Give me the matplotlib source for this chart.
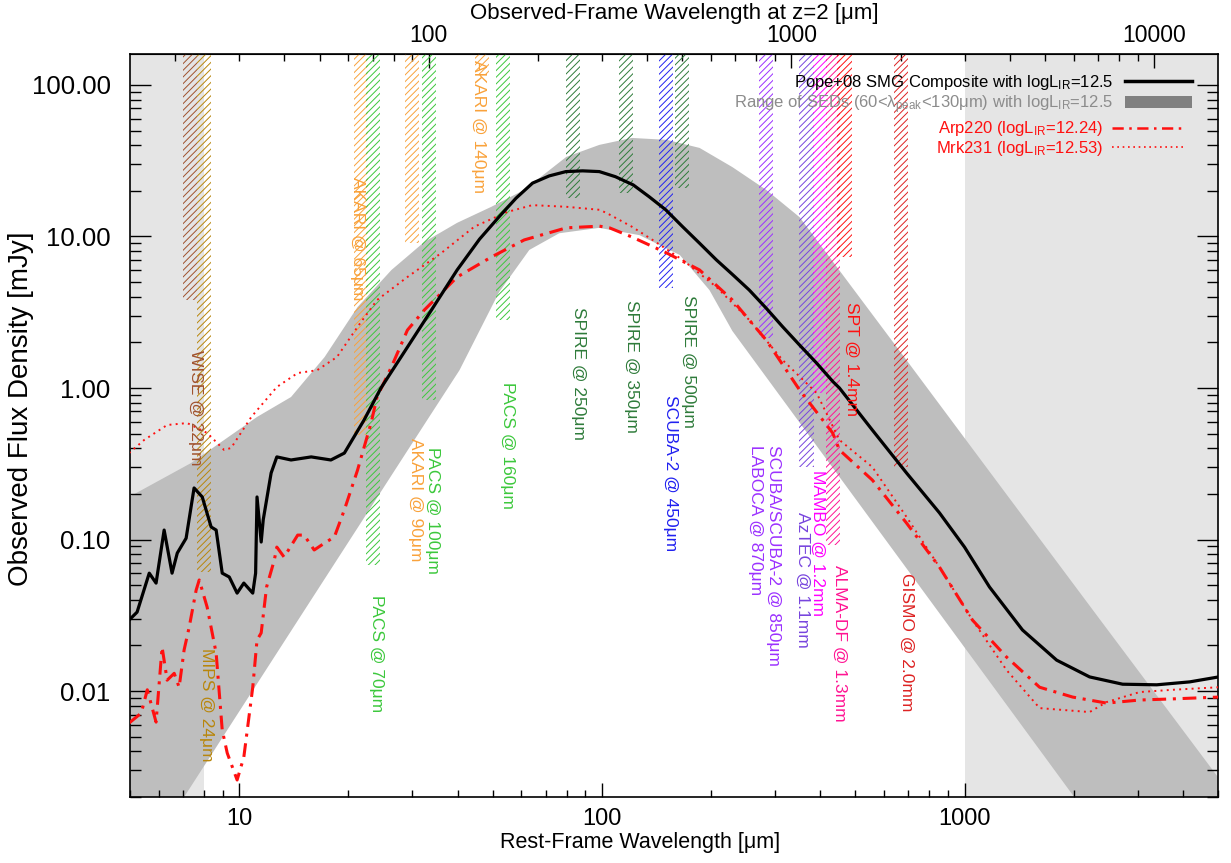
import numpy as np
import matplotlib
matplotlib.use('agg')
import matplotlib.pyplot as plt
import matplotlib.ticker as mticker
from matplotlib.lines import Line2D
from matplotlib.patches import Patch

plt.rcParams['font.family'] = ['Liberation Sans', 'DejaVu Sans']
plt.rcParams['mathtext.fontset'] = 'custom'
plt.rcParams['mathtext.rm'] = 'Liberation Sans'
plt.rcParams['mathtext.it'] = 'Liberation Sans:italic'
plt.rcParams['hatch.linewidth'] = 0.7

# Pope+08 SMG composite, rest wavelength [um] vs flux [mJy]
popeWave = [4.97, 5.23, 5.65, 5.90, 6.21, 6.53, 6.75, 7.14, 7.51, 7.91, 8.37, 8.64,
            8.98, 9.39, 9.87, 10.3, 10.9, 11.1, 11.2, 11.5, 11.65, 12.25, 12.7, 13.9,
            15.8, 17.9, 19.5, 22.1, 24.6, 29.1, 33.9, 39.9, 46.0, 52.1, 58.0, 64.4,
            71.6, 79.6, 88.5, 98.4, 109, 122, 135, 150, 167, 186, 207, 230, 255, 284,
            315, 351, 391, 434, 452, 557, 692, 853, 1000, 1172, 1445, 1795, 2213, 2729,
            3388, 4178, 5020]
popeFlux = [0.0294, 0.0332, 0.060, 0.0516, 0.1155, 0.060, 0.0814, 0.102, 0.219, 0.191,
            0.121, 0.1155, 0.060, 0.0566, 0.0443, 0.0516, 0.0443, 0.060, 0.191, 0.0963,
            0.135, 0.275, 0.351, 0.335, 0.351, 0.335, 0.372, 0.615, 1.0, 1.86, 3.27,
            6.01, 9.6, 13.5, 17.9, 22.5, 25.1, 26.8, 27.1, 26.8, 24.8, 21.9, 18.3, 15.0,
            11.6, 9.02, 7.0, 5.57, 4.43, 3.36, 2.54, 1.92, 1.46, 1.10, 1.0, 0.528, 0.275,
            0.150, 0.0892, 0.0486, 0.0253, 0.0160, 0.0124, 0.0111, 0.0110, 0.0115, 0.0124]

# Arp220 (logLIR=12.24)
arpWave = [4.97, 5.37, 5.58, 5.90, 6.13, 6.33, 6.62, 6.83, 7.05, 7.28, 7.61, 7.76,
           8.16, 8.64, 8.98, 9.27, 9.87, 10.3, 10.9, 11.2, 11.5, 11.9, 12.5, 12.7,
           13.3, 14.5, 15.1, 16.1, 17.2, 18.3, 19.5, 21.2, 23.1, 24.0, 26.3, 29.1,
           32.4, 35.2, 39.9, 49.6, 61.1, 79.8, 98.4, 105, 121, 151, 186, 229, 284,
           351, 433, 452, 557, 692, 853, 1052, 1306, 1611, 1987, 2465, 3040, 3750, 5020]
arpFlux = [0.00615, 0.00716, 0.0102, 0.00624, 0.0195, 0.0118, 0.0131, 0.0106, 0.0187,
           0.0264, 0.0464, 0.0541, 0.0358, 0.0178, 0.00553, 0.0039, 0.00259, 0.00367,
           0.0106, 0.0217, 0.0242, 0.0486, 0.0733, 0.0892, 0.0766, 0.107, 0.107, 0.0853,
           0.0948, 0.104, 0.157, 0.287, 0.587, 0.872, 1.38, 2.41, 3.27, 3.99, 5.40, 7.32,
           9.49, 11.4, 11.7, 11.4, 9.92, 7.78, 6.01, 3.81, 2.07, 0.97, 0.505, 0.39, 0.247,
           0.1285, 0.0658, 0.0294, 0.01677, 0.0106, 0.00913, 0.00833, 0.00873, 0.00888,
           0.00913]

# Mrk231 (logLIR=12.53)
mrkWave = [4.97, 5.47, 6.33, 7.19, 8.16, 9.09, 9.50, 10.8, 12.7, 14.5, 16.4, 18.6, 21.2,
           24.0, 29.1, 36.1, 44.5, 54.8, 64.3, 79.8, 98.4, 103, 121, 138, 167, 207,
           255, 315, 391, 452, 557, 692, 853, 1052, 1306, 1611, 2213, 2465, 3040, 3750,
           5020]
mrkFlux = [0.372, 0.454, 0.570, 0.587, 0.505, 0.390, 0.402, 0.644, 1.015, 1.256, 1.31,
           1.60, 2.53, 3.81, 5.40, 7.78, 11.6, 14.5, 16.1, 15.7, 15.0, 14.3, 11.6, 9.49,
           7.0, 4.64, 2.81, 1.53, 0.927, 0.454, 0.301, 0.141, 0.0658, 0.0294, 0.01376,
           0.00772, 0.00727, 0.00846, 0.00985, 0.0102, 0.0106]

# range of SEDs with 60<lambda_peak<130um: upper and lower envelope
rangeUpWave = [4.97, 7.37, 9.09, 11.2, 13.9, 17.2, 21.2, 26.3, 32.4, 39.9, 49.6, 61.1,
               79.8, 98.4, 121, 151, 186, 229, 284, 351, 662, 1249, 2357, 5020]
rangeUpFlux = [0.191, 0.32, 0.454, 0.644, 0.872, 1.60, 3.42, 6.01, 9.20, 12.3, 15.7,
               20.3, 33.5, 40.2, 44.7, 43.4, 38.4, 28.7, 20.3, 13.4, 1.76, 0.229,
               0.0299, 0.00267]
rangeLowWave = [4.97, 7.05, 14.6, 33.0, 40.5, 52.1, 63.1, 76.3, 98.4, 127, 164, 198,
                229, 452, 1249, 3236, 5020]
rangeLowFlux = [0.00055, 0.002, 0.0299, 0.615, 1.31, 4.30, 8.15, 10.5, 11.4, 10.2, 7.55,
                4.43, 2.38, 0.259, 0.0094, 0.00042, 0.0001]

# instrument bands: observed wavelength [um], lower end of hatched bar [mJy]
bandNames = ['WISE @ 22\u03bcm', 'MIPS @ 24\u03bcm', 'AKARI @ 65\u03bcm', 'PACS @ 70\u03bcm',
             'AKARI @ 90\u03bcm', 'PACS @ 100\u03bcm', 'AKARI @ 140\u03bcm',
             'PACS @ 160\u03bcm', 'SPIRE @ 250\u03bcm', 'SPIRE @ 350\u03bcm',
             'SCUBA-2 @ 450\u03bcm', 'SPIRE @ 500\u03bcm',
             'SCUBA/SCUBA-2 @ 850\u03bcm\nLABOCA @ 870\u03bcm', 'AzTEC @ 1.1mm',
             'MAMBO @ 1.2mm', 'ALMA-DF @ 1.3mm', 'SPT @ 1.4mm', 'GISMO @ 2.0mm']
bandObsWave = [22, 24, 65, 70, 90, 100, 140, 160, 250, 350, 450, 500, 850, 1100, 1200,
               1300, 1400, 2000]
bandBottom = [3.8, 0.061, 0.49, 0.068, 9.1, 0.83, 116, 2.81, 18.0, 19.4, 4.57, 20.9,
              2.14, 0.30, 0.93, 0.092, 7.3, 0.30]
redshift = 2.0
obsTicks = [100, 1000, 10000]

# styles / label placement (rest wavelength, top of text in mJy)
bandColors = ['#A0522D', '#B8860B', '#F9A23B', '#3CC83C', '#F9A23B', '#3CC83C',
              '#F9A23B', '#3CC83C', '#2E7B3A', '#2E7B3A', '#2020F0', '#2E7B3A',
              '#9B30FF', '#7744DD', '#FF00FF', '#FF1493', '#FF1010', '#DD2222']
labelX = [7.56, 8.11, 21.2, 23.9, 30.6, 34.1, 45.6, 54.8, 86.1, 121, 155, 173, 281,
          357, 393, 452, 488, 692]
labelY = [1.78, 0.0192, 24.7, 0.043, 0.468, 0.408, 146, 1.10, 3.42, 3.81, 0.899, 4.11,
          0.42, 0.152, 0.288, 0.068, 3.70, 0.060]

fig = plt.figure(figsize=(12.31, 8.63), dpi=100)
ax = fig.add_axes([130/1231, 1-797/863, 1088/1231, 743/863])
ax.set_xscale('log')
ax.set_yscale('log')
ax.set_xlim(5, 5000)
ax.set_ylim(0.002, 160)

lightGray = '#E5E5E5'
ax.axvspan(5, 24/(1+redshift), color=lightGray, lw=0, zorder=0)
ax.axvspan(1000, 5000, color=lightGray, lw=0, zorder=0)

ax.fill(np.concatenate([rangeUpWave, rangeLowWave[::-1]]),
        np.concatenate([rangeUpFlux, rangeLowFlux[::-1]]),
        color='#BEBEBE', lw=0, zorder=1)

halfWidth = 1.046
for i, obs in enumerate(bandObsWave):
    rest = obs/(1+redshift)
    lo, hi = rest/halfWidth, rest*halfWidth
    ax.bar(lo, 1000-bandBottom[i], bottom=bandBottom[i], width=hi-lo, align='edge',
           facecolor='none', edgecolor=bandColors[i], hatch='/////', lw=0, zorder=2)
    ax.text(labelX[i], labelY[i], bandNames[i], color=bandColors[i], rotation=270,
            ha='center', va='top', multialignment='left', fontsize=12.5, zorder=5)

ax.plot(mrkWave, mrkFlux, color='#FF1010', lw=1.4, ls=(0, (1, 2.2)), zorder=3)
ax.plot(arpWave, arpFlux, color='#FF1010', lw=2.2, ls=(0, (4.5, 2.2, 1, 2.2)), zorder=3)
ax.plot(popeWave, popeFlux, color='black', lw=2.3, zorder=4)

fmt = mticker.FuncFormatter(lambda v, p: '%d' % round(v))
ax.xaxis.set_major_formatter(fmt)
ax.xaxis.set_minor_formatter(mticker.NullFormatter())
ax.yaxis.set_major_formatter(mticker.FormatStrFormatter('%.2f'))
ax.yaxis.set_minor_formatter(mticker.NullFormatter())
ax.tick_params(axis='both', which='both', direction='in', top=False, right=True, width=1)
ax.tick_params(axis='x', which='major', length=10, pad=8, labelsize=17)
ax.tick_params(axis='x', which='minor', length=5)
ax.tick_params(axis='y', which='major', length=15, pad=14, labelsize=18.5)
ax.tick_params(axis='y', which='minor', length=8)
for sp in ax.spines.values():
    sp.set_linewidth(1.2)

top = ax.secondary_xaxis('top', functions=(lambda x: x*(1+redshift),
                                           lambda x: x/(1+redshift)))
top.set_xticks(obsTicks)
top.xaxis.set_major_formatter(fmt)
top.xaxis.set_minor_formatter(mticker.NullFormatter())
top.tick_params(which='both', direction='in', labelsize=16.5, width=1)
top.tick_params(which='major', length=10, pad=5)
top.tick_params(which='minor', length=5)
top.set_xlabel('Observed-Frame Wavelength at z=2 [\u03bcm]', fontsize=16, labelpad=3.5)

ax.set_xlabel('Rest-Frame Wavelength [\u03bcm]', fontsize=15.5)
ax.xaxis.set_label_coords(0.469, -0.047)
ax.set_ylabel('Observed Flux Density [mJy]', fontsize=20)
ax.yaxis.set_label_coords(-0.088, 0.523)

leg1 = ax.legend([Line2D([], [], color='black', lw=2.5),
                  Patch(facecolor='#808080', lw=0)],
                 ['Pope+08 SMG Composite with logL$_{\\rm IR}$=12.5',
                  'Range of SEDs (60<\u03bb$_{\\rm peak}$<130\u03bcm) with logL$_{\\rm IR}$=12.5'],
                 loc='upper right', bbox_to_anchor=(0.976, 0.975), frameon=False,
                 markerfirst=False, fontsize=12, handlelength=4.0, handletextpad=0.7,
                 labelspacing=0.1, borderpad=0, borderaxespad=0,
                 labelcolor=['black', '#8C8C8C'])
ax.add_artist(leg1)
ax.legend([Line2D([], [], color='#FF1010', lw=1.8, ls=(0, (4.5, 2.2, 1, 2.2))),
           Line2D([], [], color='#FF1010', lw=1.2, ls=(0, (1, 2.2)))],
          ['Arp220 (logL$_{\\rm IR}$=12.24)', 'Mrk231 (logL$_{\\rm IR}$=12.53)'],
          loc='upper right', bbox_to_anchor=(0.968, 0.912), frameon=False,
          markerfirst=False, fontsize=12, handlelength=4.3, handletextpad=0.5,
          labelspacing=0.05, borderpad=0, borderaxespad=0, labelcolor='#FF1010')

fig.savefig('out.png', dpi=100)
